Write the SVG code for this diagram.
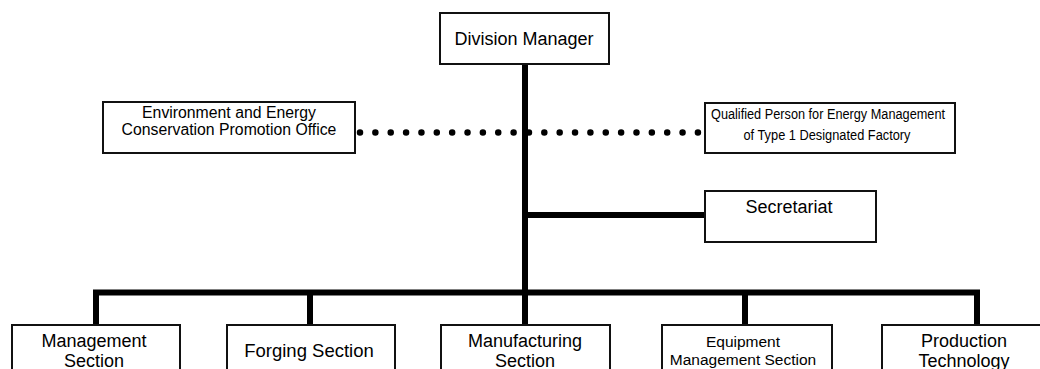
<svg xmlns="http://www.w3.org/2000/svg" width="1040" height="369" viewBox="0 0 1040 369">
<style>
.box{fill:#fff;stroke:#111;stroke-width:2}
.t{font-family:"Liberation Sans",Arial,sans-serif;fill:#000;text-anchor:middle}
.ln{fill:none;stroke:#000;stroke-width:6;stroke-linejoin:miter;stroke-linecap:butt}
.dots{fill:none;stroke:#000;stroke-width:6.5;stroke-linecap:round;stroke-dasharray:0 15.36}
</style>
<rect width="1040" height="369" fill="#fff"/>
<g id="connectors">
<path class="dots" d="M360 132.5H698"/>
<path class="ln" d="M525 64V325"/>
<path class="ln" d="M525 215H705"/>
<path class="ln" d="M96 325V292.5H977V325"/>
<path class="ln" d="M310 292.5V325"/>
<path class="ln" d="M745 292.5V325"/>
</g>
<g id="division-manager">
<rect class="box" x="440" y="13" width="169" height="51"/>
<text class="t" x="524" y="44.5" font-size="18">Division Manager</text>
</g>
<g id="env-office">
<rect class="box" x="103" y="102" width="252" height="51"/>
<text class="t" x="229" y="118" font-size="15.8">Environment and Energy</text>
<text class="t" x="229" y="135" font-size="15.8">Conservation Promotion Office</text>
</g>
<g id="qualified-person">
<rect class="box" x="705" y="103" width="250" height="50"/>
<text class="t" x="828" y="119" font-size="14" textLength="234" lengthAdjust="spacingAndGlyphs">Qualified Person for Energy Management</text>
<text class="t" x="827" y="140" font-size="14" textLength="167" lengthAdjust="spacingAndGlyphs">of Type 1 Designated Factory</text>
</g>
<g id="secretariat">
<rect class="box" x="705" y="191" width="171" height="51"/>
<text class="t" x="789" y="213" font-size="18">Secretariat</text>
</g>
<g id="management-section">
<rect class="box" x="12" y="325" width="168" height="60"/>
<text class="t" x="94" y="347" font-size="18">Management</text>
<text class="t" x="94" y="367" font-size="18">Section</text>
</g>
<g id="forging-section">
<rect class="box" x="227" y="325" width="168" height="60"/>
<text class="t" x="309" y="357" font-size="18.5">Forging Section</text>
</g>
<g id="manufacturing-section">
<rect class="box" x="441" y="325" width="169" height="60"/>
<text class="t" x="525" y="347" font-size="18">Manufacturing</text>
<text class="t" x="525" y="367" font-size="18">Section</text>
</g>
<g id="equipment-management-section">
<rect class="box" x="662" y="325" width="170" height="60"/>
<text class="t" x="743" y="347" font-size="15.5">Equipment</text>
<text class="t" x="743" y="365" font-size="15.5">Management Section</text>
</g>
<g id="production-technology">
<rect class="box" x="882" y="325" width="164" height="60"/>
<text class="t" x="964" y="347" font-size="18">Production</text>
<text class="t" x="964" y="367" font-size="18">Technology</text>
</g>
</svg>
